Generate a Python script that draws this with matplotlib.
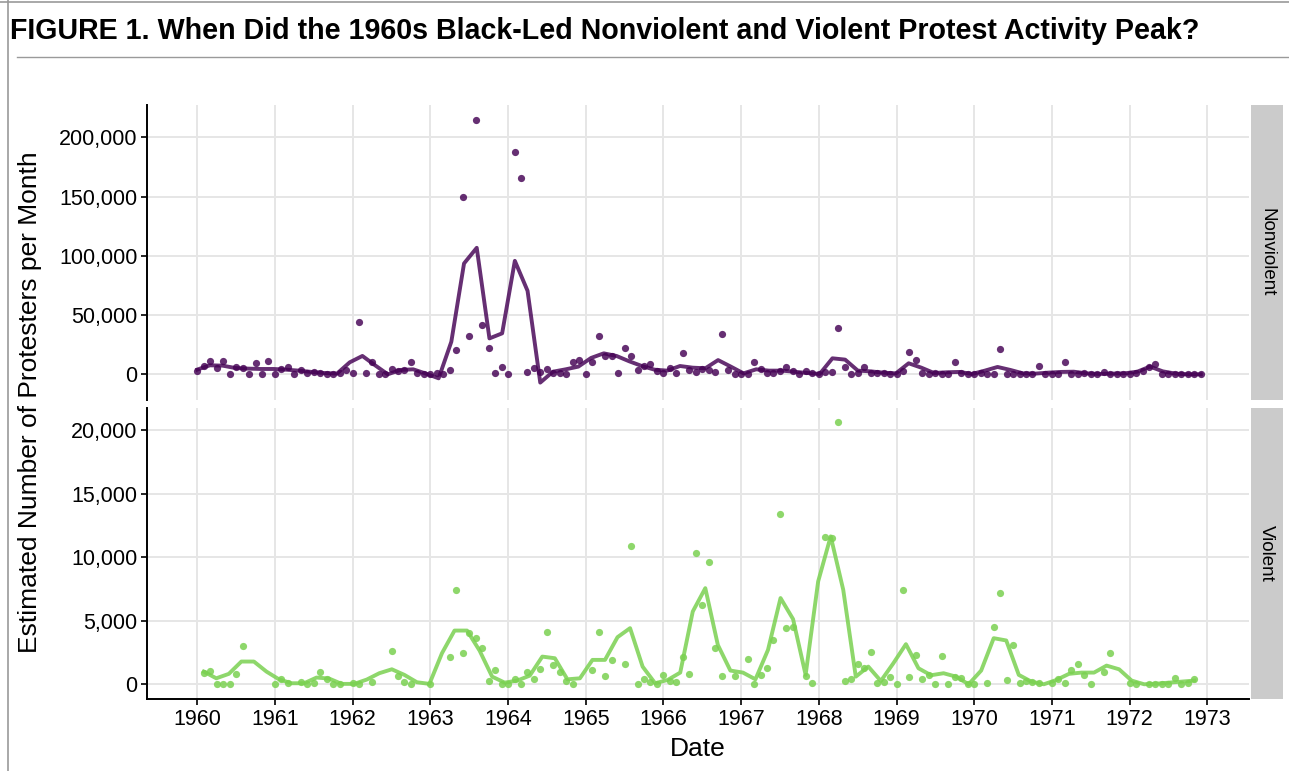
import numpy as np
import matplotlib
matplotlib.use('Agg')
import matplotlib.pyplot as plt
from matplotlib.lines import Line2D
from matplotlib.ticker import FuncFormatter

plt.rcParams['font.family'] = ['Liberation Sans', 'DejaVu Sans']

# monthly protester counts, Jan 1960 .. Dec 1972
years = list(range(1960, 1974))

nonviolent = [
    3100, 7300, 11200, 5600, 11500, 300, 5900, 5600, 300, 9600, 300, 11000,        # 1960
    0, 4800, 5900, 300, 3700, 1400, 1700, 1400, 300, 300, 800, 3700,              # 1961
    1400, 43800, 1400, 10400, 0, 300, 4800, 3100, 3700, 10400, 1400, 0,           # 1962
    0, 800, 300, 3700, 20800, 149800, 32300, 215000, 42000, 22200, 1400, 6200,    # 1963
    300, 188000, 165500, 1700, 5600, 1700, 4800, 1100, 1100, 300, 10700, 12400,   # 1964
    300, 10100, 32300, 15500, 15700, 800, 22200, 15200, 3400, 7000, 8400, 2500,   # 1965
    1400, 5600, 800, 18000, 3700, 2200, 4300, 3500, 1700, 34200, 3700, 0,         # 1966
    300, 0, 10400, 4800, 1400, 1400, 3100, 5900, 3100, 300, 3100, 1400,           # 1967
    0, 1700, 2200, 38800, 6200, 0, 1400, 6500, 1400, 1400, 1400, 300,             # 1968
    0, 2800, 19100, 11800, 1400, 0, 1400, 0, 0, 10100, 1400, 0,                   # 1969
    0, 1000, 300, 300, 21500, 0, 0, 0, 0, 0, 7000, 0,                             # 1970
    0, 0, 10100, 0, 300, 1400, 0, 0, 2000, 300, 300, 0,                           # 1971
    300, 1400, 3100, 5900, 9000, 0, 0, 0, 0, 0, 0, 0,                             # 1972
]

nan = np.nan
violent = [
    nan, 920, 1080, 50, 50, 0, 820, 3000, nan, nan, nan, nan,                     # 1960
    50, 390, 100, nan, 160, 30, 100, 1000, 390, 50, 0, nan,                       # 1961
    130, 0, nan, 210, nan, nan, 2600, 680, 180, 30, nan, nan,                     # 1962
    0, nan, nan, 2180, 7420, 2500, 4030, 3660, 2840, 260, 1130, 50,               # 1963
    50, 390, 30, 1000, 450, 1180, 4130, 1500, 1000, 260, 0, nan,                  # 1964
    nan, 1160, 4080, 630, 1900, nan, 1630, 10860, 0, 450, 180, 0,                 # 1965
    710, 290, 180, 2180, 820, 10340, 6210, 9630, 2890, 660, nan, 660,             # 1966
    nan, 1970, 30, 710, 1260, 3500, 13410, 4420, 4550, nan, 680, 130,             # 1967
    nan, 11600, 11500, 20670, 260, 450, 1580, 1320, 2580, 130, 210, 600,          # 1968
    0, 7420, 600, 2310, 420, 710, 0, 2240, 0, 600, 530, 0,                        # 1969
    0, nan, 80, 4500, 7180, 340, 3100, 130, 260, 210, 80, nan,                    # 1970
    80, 390, 80, 1130, 1600, 710, 50, nan, 950, 2450, nan, nan,                   # 1971
    80, 0, nan, 30, 30, 0, 30, 500, 50, 100, 390, nan,                            # 1972
]

# smoothed trend, 80 evenly spaced points over each series' date range
nonviolent_smooth = [
    4000, 7600, 7300, 5300, 4800, 4500, 4500, 3900, 3100, 2000,
    1100, 600, 10100, 15500, 7600, 0, 3700, 4200, 600, -3400,
    27500, 93600, 106800, 30300, 34600, 95800, 70500, -7000, 2200, 4200,
    6500, 13800, 17700, 15500, 11000, 7000, 3900, 3100, 7000, 5600,
    5100, 12000, 6500, 800, 4200, 3100, 3100, 2200, 1100, 300,
    13500, 12400, 3100, 2500, 1400, 800, 9300, 5600, 1100, 1700,
    2000, 300, 3100, 6200, 3700, 800, 600, 1400, 2000, 2200,
    800, 300, 600, 800, 2200, 6500, 2500, 600, 0, 0,
]

violent_smooth = [
    1000, 470, 820, 1790, 1790, 1000, 390, 80, 80, 530,
    450, 30, 30, 370, 870, 1180, 740, 160, 30, 2450,
    4230, 4230, 2650, 600, 130, 290, 680, 2180, 2050, 390,
    470, 1920, 1920, 3710, 4420, 1390, 80, 340, 920, 5730,
    7570, 3100, 1080, 920, 390, 2710, 6790, 5130, 740, 8100,
    11650, 7440, 600, 1390, 260, 1660, 3160, 1260, 710, 870,
    600, 0, 1080, 3630, 3450, 740, 210, 0, 340, 820,
    920, 920, 1470, 1180, 290, 0, 50, 130, 210, 290,
]

months = 1960 + np.arange(len(nonviolent)) / 12.0

panels = [
    ('Nonviolent', np.array(nonviolent, float), nonviolent_smooth,
     '#440154', 0.82, (-21700, 227400), [0, 50000, 100000, 150000, 200000]),
    ('Violent', np.array(violent, float), violent_smooth,
     '#7AD151', 0.85, (-1160, 21760), [0, 5000, 10000, 15000, 20000]),
]

W, H = 1289, 771
fig = plt.figure(figsize=(W / 100, H / 100), dpi=100)

# frame and title rule
fig.add_artist(Line2D([0, 1], [1 - 1.5 / H, 1 - 1.5 / H], color='#9a9a9a', lw=1.2))
fig.add_artist(Line2D([8 / W, 8 / W], [0, 1], color='#9a9a9a', lw=1.2))
fig.add_artist(Line2D([17 / W, 1], [1 - 57 / H, 1 - 57 / H], color='#9a9a9a', lw=1.0))
fig.text(10 / W, 1 - 31 / H,
         'FIGURE 1. When Did the 1960s Black-Led Nonviolent and Violent Protest Activity Peak?',
         fontsize=20.6, fontweight='bold', va='center', ha='left')

left, right = 147 / W, 1249 / W
boxes = [(105, 400), (408, 699)]
comma = FuncFormatter(lambda v, p: '{:,.0f}'.format(v))

for i, (name, vals, smooth, color, alpha, ylim, yt) in enumerate(panels):
    top, bot = boxes[i]
    ax = fig.add_axes([left, 1 - bot / H, right - left, (bot - top) / H])
    ok = ~np.isnan(vals)
    xs = months[ok]
    line_x = np.linspace(xs[0], xs[-1], len(smooth))

    ax.scatter(xs, vals[ok], s=27, color=color, alpha=alpha, lw=0, zorder=3)
    ax.plot(line_x, smooth, color=color, alpha=alpha, lw=2.8, zorder=4)

    ax.set_xlim(1959.353, 1973.537)
    ax.set_ylim(*ylim)
    ax.set_xticks(years)
    ax.set_yticks(yt)
    ax.yaxis.set_major_formatter(comma)
    ax.grid(True, color='#e6e6e6', lw=1.4)
    ax.set_axisbelow(True)
    for s in ['top', 'right']:
        ax.spines[s].set_visible(False)
    ax.spines['left'].set_linewidth(1.4)
    ax.tick_params(axis='y', length=4, width=1.2, labelsize=15.5, pad=3)
    if i == 0:
        ax.spines['bottom'].set_visible(False)
        ax.tick_params(axis='x', length=0, labelbottom=False)
    else:
        ax.spines['bottom'].set_linewidth(1.4)
        ax.tick_params(axis='x', length=4, width=1.2, labelsize=15.5, pad=3)

    # facet strip
    sax = fig.add_axes([1251 / W, 1 - bot / H, 31.5 / W, (bot - top) / H])
    sax.set_facecolor('#cbcbcb')
    sax.set_xticks([])
    sax.set_yticks([])
    for s in sax.spines.values():
        s.set_visible(False)
    sax.text(0.5, 0.5, name, rotation=270, ha='center', va='center',
             fontsize=13.5, transform=sax.transAxes)

fig.text(30 / W, 1 - 402 / H, 'Estimated Number of Protesters per Month',
         rotation=90, fontsize=19, ha='center', va='center')
fig.text((147 + 1249) / 2 / W, 1 - 749 / H, 'Date', fontsize=19, ha='center', va='center')

fig.savefig('out.png', dpi=100)
